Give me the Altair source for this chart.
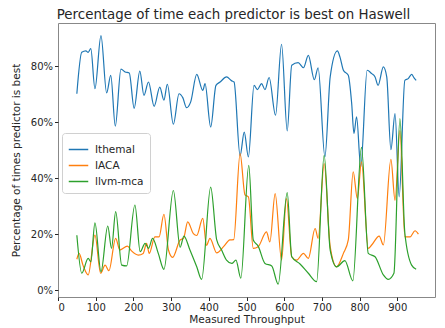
import altair as alt
import pandas as pd

ithemal_x = [50, 63, 74, 80, 87, 98, 114, 129, 140, 152, 167, 178, 189, 202, 217, 228, 240, 255, 270, 281,
             290, 306, 321, 331, 341, 352, 368, 384, 390, 405, 419, 430, 447, 461, 467, 483, 494, 505, 520, 529,
             540, 549, 560, 577, 593, 608, 620, 637, 651, 664, 680, 690, 708, 722, 741, 748, 757, 770, 779, 785,
             792, 803, 820, 832, 841, 849, 863, 872, 883, 894, 905, 920, 929, 938, 944, 950]
ithemal_v = [70.2, 85, 85.5, 85, 86.3, 72, 91, 70.5, 76.8, 58.6, 79, 78, 77.6, 65, 78.3, 69.6, 74.4, 65.7, 72.6, 67.9,
             73.6, 59.3, 70.2, 68.8, 65.2, 67.3, 77.1, 71.4, 73.8, 58.3, 73.2, 74.4, 76.2, 74.8, 74.4, 48, 56.5, 47.6, 73.2, 71.7,
             73.8, 71.7, 76, 62.5, 87.9, 56.9, 80.4, 81.3, 79.5, 83.9, 75.2, 79.5, 47.6, 76.2, 85.5, 83.3, 78.6, 76.8, 66.7, 56,
             61.9, 44, 78.6, 77.4, 76.2, 73.2, 79.8, 76.2, 50.2, 63.1, 33.3, 75, 75.6, 77.1, 76, 75]

iaca_x = [50, 56, 66, 80, 98, 113, 125, 135, 153, 164, 184, 195, 213, 226, 235, 242, 257, 268, 281, 293,
          304, 324, 333, 344, 359, 368, 384, 394, 403, 421, 439, 456, 466, 483, 496, 505, 518, 531, 553, 562,
          576, 593, 606, 620, 633, 651, 664, 682, 690, 706, 722, 739, 757, 770, 783, 794, 805, 823, 832, 852,
          863, 883, 894, 907, 920, 934, 947, 956]
iaca_v = [11, 13.1, 9, 5.4, 19.6, 6, 8.9, 6.9, 18.5, 14.3, 15.7, 14, 12.5, 13.1, 16.7, 13.1, 19, 19, 27.1, 14.3,
          11.7, 17.9, 18.5, 24.4, 20.2, 19.5, 25.6, 16, 18.5, 13.3, 15.5, 17.9, 18, 48.8, 34, 33.3, 14.9, 15.5, 20.8, 17.2,
          34.5, 10.7, 32.7, 11.9, 10.7, 13.1, 11.3, 22, 18.5, 45.2, 15.5, 8.3, 13.1, 17.9, 42.3, 32.7, 45.8, 14.9, 16.1, 19.3,
          16.1, 46.7, 32.1, 57, 19, 19, 21.2, 20]

llvm_x = [50, 63, 80, 87, 98, 114, 132, 142, 153, 169, 182, 204, 218, 231, 240, 251, 266, 281, 306, 324,
          334, 350, 368, 381, 405, 421, 434, 447, 461, 472, 485, 506, 518, 531, 549, 567, 584, 608, 620, 642,
          664, 686, 706, 722, 739, 761, 782, 805, 823, 841, 863, 876, 891, 907, 920, 938, 950]
llvm_v = [19.6, 6, 11.3, 10.1, 24, 6.5, 22.9, 14.9, 28, 8.9, 8.6, 30.4, 13.7, 16.7, 14.9, 18.5, 13.1, 7.4, 35.6, 15.3,
          19.3, 14.3, 8.3, 3.8, 36.8, 17.9, 14.3, 10.7, 9.5, 10.7, 4.2, 44.6, 17.9, 15.7, 9.5, 8.6, 2.1, 34.8, 11.9, 9.3,
          6, 3, 48.2, 14.3, 8.3, 10.5, 3.3, 51, 13.1, 11.9, 5.4, 3.8, 6, 61.3, 20.4, 8.9, 7.4]

series_names = ["Ithemal", "IACA", "llvm-mca"]
series_colors = ["#1f77b4", "#ff7f0e", "#2ca02c"]

rows = []
for name, xs, vs in [("Ithemal", ithemal_x, ithemal_v), ("IACA", iaca_x, iaca_v), ("llvm-mca", llvm_x, llvm_v)]:
    for i, (a, b) in enumerate(zip(xs, vs)):
        rows.append({"series": name, "x": a, "v": b, "order": i})
df = pd.DataFrame(rows)

FONT = "DejaVu Sans"

chart = alt.Chart(df).mark_line(interpolate="monotone", strokeWidth=1.2).encode(
    x=alt.X("x:Q", scale=alt.Scale(domain=[0, 1000], nice=False, zero=False),
            axis=alt.Axis(values=list(range(0, 1000, 100)), title="Measured Throughput")),
    y=alt.Y("v:Q", scale=alt.Scale(domain=[-2.5, 95.5], nice=False, zero=False),
            axis=alt.Axis(values=[0, 20, 40, 60, 80], labelExpr="datum.value + '%'",
                          title="Percentage of times predictor is best")),
    color=alt.Color("series:N", scale=alt.Scale(domain=series_names, range=series_colors),
                    legend=alt.Legend(title=None, orient="none", legendX=4, legendY=110,
                                      symbolType="stroke", symbolSize=380, symbolStrokeWidth=1.5,
                                      labelFontSize=10.5, labelFont=FONT, labelColor="#262626",
                                      rowPadding=0, padding=6, strokeColor="#d0d0d0",
                                      fillColor="rgba(255,255,255,0.85)", cornerRadius=3,
                                      labelOffset=6)),
    detail="series:N",
    order="order:Q",
).properties(
    width=377, height=274,
    title=alt.TitleParams("Percentage of time each predictor is best on Haswell",
                          fontSize=13.4, fontWeight="normal", font=FONT, color="#262626",
                          anchor="middle", offset=2, dx=-13),
    autosize=alt.AutoSizeParams(type="none"),
    padding={"left": 50, "top": 15, "right": 2, "bottom": 31},
).configure_axis(
    grid=False, domain=False, labelFont=FONT, titleFont=FONT, labelFontSize=10,
    titleFontSize=10.5, titleFontWeight="normal", labelColor="#262626", titleColor="#262626",
    tickColor="#262626", tickSize=3.5, labelPadding=2,
).configure_axisY(titlePadding=9).configure_axisX(titlePadding=2).configure_view(
    stroke="#888888", strokeWidth=1
)

chart.save("out.html", embed_options={"renderer": "svg", "actions": False})
